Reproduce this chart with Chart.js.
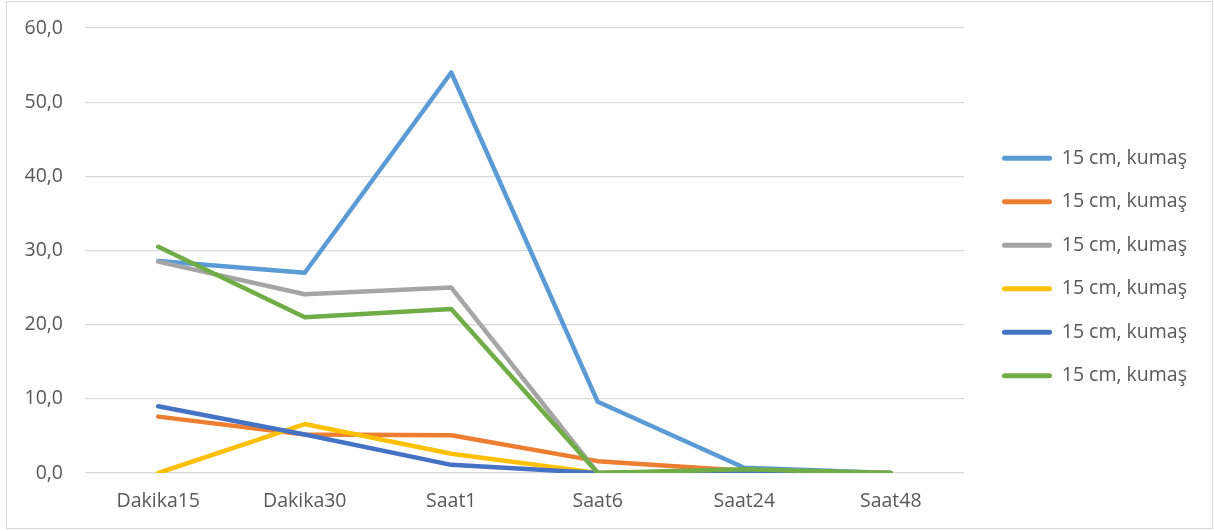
<!DOCTYPE html>
<html>
<head>
<meta charset="utf-8">
<script src="https://cdn.jsdelivr.net/npm/chart.js@4.4.1/dist/chart.umd.min.js"></script>
<style>
  body { margin: 0; background: #fff; }
  #wrap { position: absolute; left: 6px; top: 1px; width: 1205px; height: 526px; border: 1px solid #d9d9d9; }
</style>
</head>
<body>
<div id="wrap"><canvas id="myChart" width="1205" height="526"></canvas></div>
<script>
const categories = ["Dakika15", "Dakika30", "Saat1", "Saat6", "Saat24", "Saat48"];
const seriesNames = ["15 cm, kumaş", "15 cm, kumaş", "15 cm, kumaş", "15 cm, kumaş", "15 cm, kumaş", "15 cm, kumaş"];
const lightBlue = [28.6, 27.0, 54.0, 9.6, 0.7, 0];
const orange = [7.6, 5.2, 5.1, 1.6, 0.3, 0];
const gray = [28.5, 24.1, 25.0, 0, 0.3, 0];
const yellow = [0, 6.6, 2.6, 0, 0.2, 0];
const darkBlue = [9.0, 5.2, 1.1, 0, 0.1, 0];
const green = [30.5, 21.0, 22.1, 0, 0.5, 0];
const yTicks = [0, 10, 20, 30, 40, 50, 60];

const colors = ["#5B9BD5", "#ED7D31", "#A5A5A5", "#FFC000", "#4472C4", "#70AD47"];
const allSeries = [lightBlue, orange, gray, yellow, darkBlue, green];
const textColor = "#595959";
const font = { family: "'Open Sans', sans-serif", size: 19.5 };

const datasets = allSeries.map((vals, i) => ({
  label: seriesNames[i],
  data: vals,
  borderColor: colors[i],
  backgroundColor: colors[i],
  borderWidth: 4.5,
  borderCapStyle: "round",
  borderJoinStyle: "round",
  pointRadius: 0,
  tension: 0,
  order: allSeries.length - i,
}));

// nudges the legend box so it sits where Excel put it
const legendShift = {
  id: "legendShift",
  beforeLayout(chart) {
    const lg = chart.legend;
    if (lg && !lg._wrapped) {
      const f = lg.fit.bind(lg);
      lg.fit = function () { f(); this.width += 14; };
      lg._wrapped = true;
    }
  },
  afterLayout(chart) {
    const lg = chart.legend;
    lg.left += 14; lg.right += 14;
    lg.top -= 11; lg.bottom -= 11;
  },
};

const ctx = document.getElementById("myChart").getContext("2d");
new Chart(ctx, {
  type: "line",
  data: { labels: categories, datasets: datasets },
  plugins: [legendShift],
  options: {
    responsive: false,
    animation: false,
    layout: { padding: { top: 26, right: 15, bottom: 0, left: 0 } },
    plugins: {
      tooltip: { enabled: false },
      legend: {
        position: "right",
        align: "center",
        labels: {
          color: textColor,
          font: font,
          boxWidth: 50,
          boxHeight: 5,
          padding: 24,
          useBorderRadius: true,
          borderRadius: 2.5,
          generateLabels(chart) {
            return chart.data.datasets.map((ds, i) => ({
              text: ds.label,
              fillStyle: ds.borderColor,
              strokeStyle: ds.borderColor,
              lineWidth: 0,
              fontColor: textColor,
              hidden: false,
              datasetIndex: i,
              borderRadius: 2.5,
            }));
          },
        },
      },
    },
    scales: {
      x: {
        offset: true,
        grid: { display: false },
        border: { display: false },
        ticks: { color: textColor, font: font, padding: 9, maxRotation: 0 },
        afterFit(scale) { scale.height = 55; },
      },
      y: {
        min: 0,
        max: 60,
        afterBuildTicks(scale) { scale.ticks = yTicks.map(v => ({ value: v })); },
        grid: { color: "#d9d9d9", lineWidth: 1.3, drawTicks: true, tickLength: 22, tickColor: "rgba(0,0,0,0)" },
        border: { display: false },
        ticks: {
          color: textColor,
          font: font,
          padding: 0,
          callback: v => v.toFixed(1).replace(".", ","),
        },
        afterFit(scale) { scale.width = 78; },
      },
    },
  },
});
</script>
</body>
</html>
